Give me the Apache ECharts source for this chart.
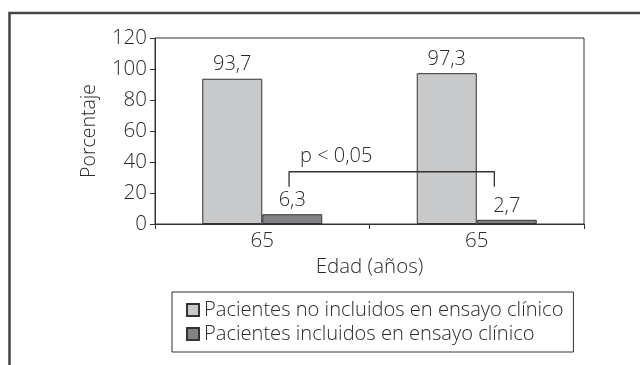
<!DOCTYPE html>
<html>
<head>
<meta charset="utf-8">
<script src="https://cdn.jsdelivr.net/npm/echarts@6/dist/echarts.min.js"></script>
<style>
  html, body { margin: 0; padding: 0; background: #fff; }
  #chart { width: 640px; height: 365px; }
</style>
</head>
<body>
<div id="chart"></div>
<script>
// Age groups on the x axis
const categories = ['65', '65'];
// Percentage of patients per group
const noIncluidos = [93.7, 97.3];
const incluidos = [6.3, 2.7];
const seriesNames = [
  'Pacientes no incluidos en ensayo clínico',
  'Pacientes incluidos en ensayo clínico'
];
// Significance bracket, in (position along the x range 0..2, percentage)
const bracketX = [0.625, 0.625, 1.582, 1.582];
const bracketY = [24, 33.7, 33.7, 24];
const pLabel = 'p < 0,05';
const pLabelPos = [0.845, 43.5];

const FONT = 'Open Sans';
const W = 300;
const TXT = '#2a2a2a';

const chart = echarts.init(document.getElementById('chart'), null, { renderer: 'canvas' });

const fmt = v => String(v).replace('.', ',');

chart.setOption({
  animation: false,
  textStyle: { fontFamily: FONT, fontWeight: W, color: TXT },
  grid: {
    left: 155, top: 38, right: 56, bottom: 141,
    show: true, borderColor: '#333', borderWidth: 1
  },
  legend: {
    orient: 'vertical',
    left: 172, top: 292,
    padding: [8, 10, 8, 14],
    borderColor: '#333', borderWidth: 1,
    itemWidth: 12, itemHeight: 12, itemGap: 4,
    icon: 'rect',
    textStyle: { fontFamily: FONT, fontWeight: W, fontSize: 20.1, lineHeight: 20, color: TXT },
    data: seriesNames
  },
  xAxis: [{
    type: 'category',
    data: categories,
    axisLine: { lineStyle: { color: '#333', width: 1 } },
    axisTick: { show: true, length: 5, lineStyle: { color: '#333' } },
    axisLabel: { fontFamily: FONT, fontWeight: W, fontSize: 20.5, color: TXT, margin: 7 },
    name: 'Edad (años)',
    nameLocation: 'middle',
    nameGap: 32,
    nameTextStyle: { fontFamily: FONT, fontWeight: W, fontSize: 20.5, color: TXT }
  }, {
    type: 'value', min: 0, max: 2, show: false
  }],
  yAxis: {
    type: 'value',
    min: 0, max: 120, interval: 20,
    axisLine: { show: true, lineStyle: { color: '#333', width: 1 } },
    axisTick: { show: true, length: 5, lineStyle: { color: '#333' } },
    axisLabel: { fontFamily: FONT, fontWeight: W, fontSize: 20.5, color: TXT, margin: 8 },
    splitLine: { show: false },
    name: 'Porcentaje',
    nameLocation: 'middle',
    nameRotate: 90,
    nameGap: 56,
    nameTextStyle: { fontFamily: FONT, fontWeight: W, fontSize: 19.5, color: TXT }
  },
  series: [{
    name: seriesNames[0],
    type: 'bar',
    data: noIncluidos,
    barWidth: 60,
    barGap: '0%',
    itemStyle: { color: '#c8c9cb', borderColor: '#333', borderWidth: 1 },
    label: { show: true, position: 'top', distance: 4, fontFamily: FONT, fontWeight: W, fontSize: 20,
             color: TXT, formatter: p => fmt(p.value) }
  }, {
    name: seriesNames[1],
    type: 'bar',
    data: incluidos,
    barWidth: 60,
    barGap: '0%',
    itemStyle: { color: '#808285', borderColor: '#333', borderWidth: 1 },
    label: { show: true, position: 'top', distance: 4, fontFamily: FONT, fontWeight: W, fontSize: 20,
             color: TXT, formatter: p => fmt(p.value) }
  }, {
    type: 'line',
    xAxisIndex: 1,
    data: bracketX.map((x, i) => [x, bracketY[i]]),
    symbol: 'none',
    lineStyle: { color: '#333', width: 1.3 },
    z: 5,
    silent: true
  }, {
    type: 'scatter',
    xAxisIndex: 1,
    data: [pLabelPos],
    symbolSize: 1,
    itemStyle: { opacity: 0 },
    label: { show: true, position: 'inside', formatter: pLabel, fontFamily: FONT, fontWeight: W,
             fontSize: 20, color: TXT, opacity: 1 },
    z: 6,
    silent: true
  }],
  graphic: [{
    type: 'polyline',
    shape: { points: [[640, 13], [9.5, 13], [9.5, 365]] },
    style: { stroke: '#444', lineWidth: 2.5, fill: null },
    silent: true
  }]
});
</script>
</body>
</html>
